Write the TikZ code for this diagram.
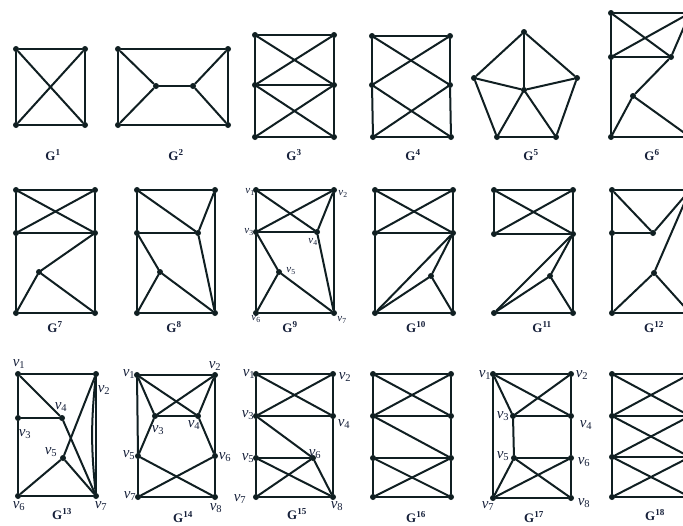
\documentclass[tikz,border=0pt]{standalone}
\usepackage{fontspec}
\setmainfont{Liberation Serif}
\definecolor{lc}{HTML}{101F22}
\definecolor{tc}{HTML}{16203A}
\newcommand\vl[1]{\textit{v}\textsubscript{#1}}
\newcommand\gl[1]{\textbf{G}\textsuperscript{\textbf{#1}}}
\tikzset{
  dot/.style={circle,fill=lc,inner sep=0pt,minimum size=6pt},
  edge/.style={draw=lc,line width=2pt,line cap=round},
  glab/.style={text=tc,font=\fontsize{13}{14}\selectfont,inner sep=0pt},
  vsm/.style={text=tc,font=\fontsize{11}{11}\selectfont,inner sep=0pt},
  vbig/.style={text=tc,font=\fontsize{15}{15}\selectfont,inner sep=0pt}
}
\begin{document}
\begin{tikzpicture}[x=1pt,y=-1pt]
\clip (0,0) rectangle (683,525);
\fill[white] (0,0) rectangle (683,525);
% ---------- G1
\foreach \n/\x/\y in {a1/16/49,a2/85/49,a3/16/125,a4/85/125}{\node[dot] (\n) at (\x,\y) {};}
\foreach \u/\v in {a1/a2,a2/a4,a4/a3,a3/a1,a1/a4,a2/a3}{\draw[edge] (\u)--(\v);}
\node[glab] (lg1) at (53,155) {\gl{1}};
% ---------- G2
\foreach \n/\x/\y in {b1/118/49,b2/228/49,b3/118/125,b4/228/125,b5/156/86,b6/193/86}{\node[dot] (\n) at (\x,\y) {};}
\foreach \u/\v in {b1/b2,b2/b4,b4/b3,b3/b1,b1/b5,b3/b5,b5/b6,b6/b2,b6/b4}{\draw[edge] (\u)--(\v);}
\node[glab] (lg2) at (176,155) {\gl{2}};
% ---------- G3
\foreach \n/\x/\y in {c1/255/35,c2/334/35,c3/255/85,c4/334/85,c5/255/137,c6/334/137}{\node[dot] (\n) at (\x,\y) {};}
\foreach \u/\v in {c1/c2,c1/c5,c2/c6,c5/c6,c3/c4,c1/c4,c2/c3,c3/c6,c4/c5}{\draw[edge] (\u)--(\v);}
\node[glab] (lg3) at (294,155) {\gl{3}};
% ---------- G4
\foreach \n/\x/\y in {d1/372/36,d2/450/36,d3/372/85,d4/450/85,d5/373/137,d6/451/137}{\node[dot] (\n) at (\x,\y) {};}
\foreach \u/\v in {d1/d2,d1/d3,d3/d5,d2/d4,d4/d6,d5/d6,d1/d4,d2/d3,d3/d6,d4/d5}{\draw[edge] (\u)--(\v);}
\node[glab] (lg4) at (413,155) {\gl{4}};
% ---------- G5
\foreach \n/\x/\y in {e1/524/32,e2/474/78,e3/577/78,e4/524/90,e5/497/137,e6/556/137}{\node[dot] (\n) at (\x,\y) {};}
\foreach \u/\v in {e1/e2,e1/e3,e2/e5,e3/e6,e5/e6,e1/e4,e2/e4,e3/e4,e4/e5,e4/e6}{\draw[edge] (\u)--(\v);}
\node[glab] (lg5) at (531,155) {\gl{5}};
% ---------- G6
\foreach \n/\x/\y in {f1/611/13,f2/690/13,f3/611/57,f4/671/57,f5/633/96,f6/611/137,f7/690/137}{\node[dot] (\n) at (\x,\y) {};}
\foreach \u/\v in {f1/f2,f1/f3,f3/f6,f6/f7,f3/f4,f1/f4,f2/f3,f2/f4,f4/f5,f5/f6,f5/f7}{\draw[edge] (\u)--(\v);}
\node[glab] (lg6) at (652,155) {\gl{6}};
% ---------- G7
\foreach \n/\x/\y in {g1/16/190,g2/95/190,g3/16/233,g4/95/233,g5/39/272,g6/16/313,g7/95/313}{\node[dot] (\n) at (\x,\y) {};}
\foreach \u/\v in {g1/g2,g1/g3,g3/g6,g2/g4,g4/g7,g6/g7,g3/g4,g1/g4,g2/g3,g4/g5,g5/g6,g5/g7}{\draw[edge] (\u)--(\v);}
\node[glab] (lg7) at (55,327) {\gl{7}};
% ---------- G8
\foreach \n/\x/\y in {h1/137/190,h2/215/190,h3/137/233,h4/198/233,h5/160/272,h6/137/313,h7/215/313}{\node[dot] (\n) at (\x,\y) {};}
\foreach \u/\v in {h1/h2,h1/h3,h3/h6,h2/h7,h6/h7,h3/h4,h1/h4,h2/h4,h4/h7,h3/h5,h5/h6,h5/h7}{\draw[edge] (\u)--(\v);}
\node[glab] (lg8) at (174,327) {\gl{8}};
% ---------- G9
\foreach \n/\x/\y in {i1/256/190,i2/334/190,i3/256/232,i4/317/232,i5/279/272,i6/256/313,i7/334/313}{\node[dot] (\n) at (\x,\y) {};}
\foreach \u/\v in {i1/i2,i1/i3,i3/i6,i2/i7,i6/i7,i3/i4,i1/i4,i2/i3,i2/i4,i4/i7,i3/i5,i5/i6,i5/i7}{\draw[edge] (\u)--(\v);}
\node[glab] (lg9) at (290,327) {\gl{9}};
\node[vsm] (ti1) at (250,192) {\vl{1}};
\node[vsm] (ti2) at (343,194) {\vl{2}};
\node[vsm] (ti3) at (249,232) {\vl{3}};
\node[vsm] (ti4) at (313,242) {\vl{4}};
\node[vsm] (ti5) at (291,271) {\vl{5}};
\node[vsm] (ti6) at (256,319) {\vl{6}};
\node[vsm] (ti7) at (342,320) {\vl{7}};
% ---------- G10
\foreach \n/\x/\y in {j1/375/190,j2/453/190,j3/375/233,j4/453/233,j5/431/276,j6/375/313,j7/453/313}{\node[dot] (\n) at (\x,\y) {};}
\foreach \u/\v in {j1/j2,j1/j3,j3/j6,j2/j4,j4/j7,j6/j7,j3/j4,j1/j4,j2/j3,j4/j6,j4/j5,j5/j6,j5/j7}{\draw[edge] (\u)--(\v);}
\node[glab] (lg10) at (416,327) {\gl{10}};
% ---------- G11
\foreach \n/\x/\y in {k1/494/190,k2/573/190,k3/494/234,k4/573/234,k5/550/276,k6/494/313,k7/573/313}{\node[dot] (\n) at (\x,\y) {};}
\foreach \u/\v in {k1/k2,k1/k3,k2/k4,k4/k7,k6/k7,k3/k4,k1/k4,k2/k3,k4/k6,k4/k5,k5/k6,k5/k7}{\draw[edge] (\u)--(\v);}
\node[glab] (lg11) at (542,327) {\gl{11}};
% ---------- G12
\foreach \n/\x/\y in {l1/612/190,l2/690/190,l3/612/233,l4/653/233,l5/654/273,l6/612/313,l7/690/313}{\node[dot] (\n) at (\x,\y) {};}
\foreach \u/\v in {l1/l2,l1/l3,l3/l6,l6/l7,l3/l4,l1/l4,l4/l2,l2/l5,l5/l6,l5/l7}{\draw[edge] (\u)--(\v);}
\node[glab] (lg12) at (654,327) {\gl{12}};
% ---------- G13
\foreach \n/\x/\y in {m1/18/374,m2/96/374,m3/18/418,m4/62/418,m5/63/458,m6/18/496,m7/96/496}{\node[dot] (\n) at (\x,\y) {};}
\foreach \u/\v in {m1/m2,m1/m3,m3/m6,m2/m7,m6/m7,m3/m4,m1/m4,m4/m7,m2/m5,m5/m6,m5/m7}{\draw[edge] (\u)--(\v);}
\draw[edge] (m2) to[bend right=6] (m7);
\node[glab] (lg13) at (62,514) {\gl{13}};
\node[vbig] (tm1) at (19,364) {\vl{1}};
\node[vbig] (tm2) at (104,390) {\vl{2}};
\node[vbig] (tm3) at (25,434) {\vl{3}};
\node[vbig] (tm4) at (61,407) {\vl{4}};
\node[vbig] (tm5) at (51,452) {\vl{5}};
\node[vbig] (tm6) at (19,506) {\vl{6}};
\node[vbig] (tm7) at (101,506) {\vl{7}};
% ---------- G14
\foreach \n/\x/\y in {n1/137/375,n2/215/375,n3/155/416,n4/198/416,n5/138/456,n6/215/456,n7/138/497,n8/215/497}{\node[dot] (\n) at (\x,\y) {};}
\foreach \u/\v in {n1/n2,n1/n5,n5/n7,n2/n6,n6/n8,n7/n8,n1/n3,n1/n4,n2/n3,n2/n4,n3/n4,n3/n5,n4/n6,n5/n8,n6/n7}{\draw[edge] (\u)--(\v);}
\node[glab] (lg14) at (183,517) {\gl{14}};
\node[vbig] (tn1) at (129,374) {\vl{1}};
\node[vbig] (tn2) at (215,366) {\vl{2}};
\node[vbig] (tn3) at (158,430) {\vl{3}};
\node[vbig] (tn4) at (194,425) {\vl{4}};
\node[vbig] (tn5) at (129,455) {\vl{5}};
\node[vbig] (tn6) at (225,457) {\vl{6}};
\node[vbig] (tn7) at (130,496) {\vl{7}};
\node[vbig] (tn8) at (216,508) {\vl{8}};
% ---------- G15
\foreach \n/\x/\y in {o1/256/374,o2/333/374,o3/256/416,o4/333/416,o5/256/458,o6/313/458,o7/256/497,o8/333/497}{\node[dot] (\n) at (\x,\y) {};}
\foreach \u/\v in {o1/o2,o1/o3,o3/o5,o5/o7,o2/o4,o4/o8,o7/o8,o3/o4,o1/o4,o2/o3,o3/o6,o5/o6,o6/o8,o5/o8,o6/o7}{\draw[edge] (\u)--(\v);}
\node[glab] (lg15) at (297,514) {\gl{15}};
\node[vbig] (to1) at (249,374) {\vl{1}};
\node[vbig] (to2) at (345,377) {\vl{2}};
\node[vbig] (to3) at (248,415) {\vl{3}};
\node[vbig] (to4) at (344,424) {\vl{4}};
\node[vbig] (to5) at (248,458) {\vl{5}};
\node[vbig] (to6) at (315,454) {\vl{6}};
\node[vbig] (to7) at (240,499) {\vl{7}};
\node[vbig] (to8) at (337,506) {\vl{8}};
% ---------- G16
\foreach \n/\x/\y in {p1/373/374,p2/451/374,p3/373/416,p4/451/416,p5/373/458,p6/451/458,p7/373/497,p8/451/497}{\node[dot] (\n) at (\x,\y) {};}
\foreach \u/\v in {p1/p2,p1/p3,p3/p5,p5/p7,p2/p4,p4/p6,p6/p8,p7/p8,p3/p4,p5/p6,p1/p4,p2/p3,p3/p6,p5/p8,p6/p7}{\draw[edge] (\u)--(\v);}
\node[glab] (lg16) at (416,517) {\gl{16}};
% ---------- G17
\foreach \n/\x/\y in {q1/493/374,q2/571/374,q3/513/416,q4/571/416,q5/514/458,q6/571/458,q7/493/498,q8/571/498}{\node[dot] (\n) at (\x,\y) {};}
\foreach \u/\v in {q1/q2,q1/q7,q2/q4,q4/q6,q6/q8,q7/q8,q1/q3,q1/q4,q2/q3,q3/q4,q3/q5,q5/q6,q5/q7,q5/q8,q6/q7}{\draw[edge] (\u)--(\v);}
\node[glab] (lg17) at (534,517) {\gl{17}};
\node[vbig] (tq1) at (485,375) {\vl{1}};
\node[vbig] (tq2) at (582,375) {\vl{2}};
\node[vbig] (tq3) at (503,416) {\vl{3}};
\node[vbig] (tq4) at (586,425) {\vl{4}};
\node[vbig] (tq5) at (503,456) {\vl{5}};
\node[vbig] (tq6) at (584,462) {\vl{6}};
\node[vbig] (tq7) at (488,506) {\vl{7}};
\node[vbig] (tq8) at (584,503) {\vl{8}};
% ---------- G18
\foreach \n/\x/\y in {r1/612/374,r2/690/374,r3/612/416,r4/690/416,r5/612/457,r6/690/457,r7/612/497,r8/690/497}{\node[dot] (\n) at (\x,\y) {};}
\foreach \u/\v in {r1/r2,r1/r3,r3/r5,r5/r7,r7/r8,r3/r4,r5/r6,r1/r4,r2/r3,r3/r6,r4/r5,r5/r8,r6/r7}{\draw[edge] (\u)--(\v);}
\node[glab] (lg18) at (655,515) {\gl{18}};
\end{tikzpicture}
\end{document}
